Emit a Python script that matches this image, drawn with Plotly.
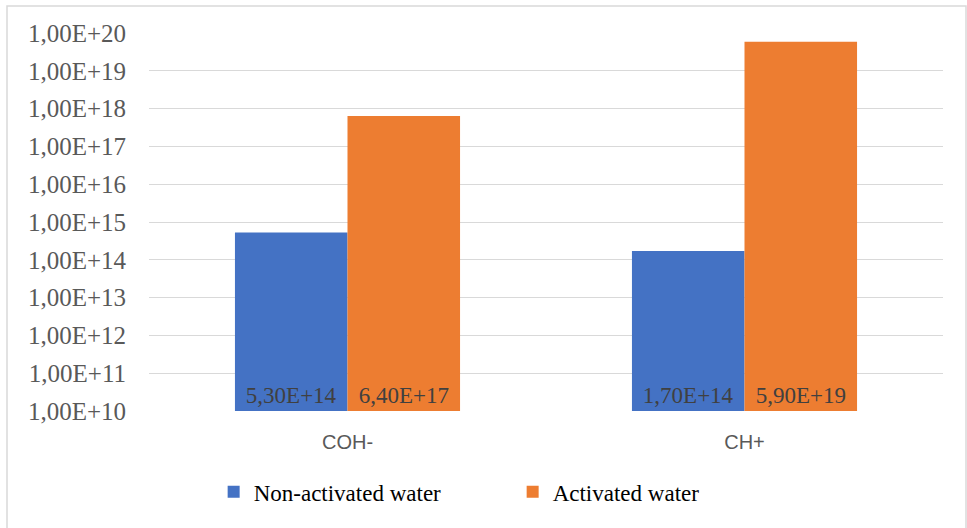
import plotly.graph_objects as go

categories = ["COH-", "CH+"]
non_activated = [5.30e14, 1.70e14]
activated = [6.40e17, 5.90e19]
non_activated_labels = ["5,30E+14", "1,70E+14"]
activated_labels = ["6,40E+17", "5,90E+19"]
tick_vals = [float(10.0 ** k) for k in range(10, 21)]
tick_text = ["1,00E+%d" % k for k in range(10, 21)]

L, R, T, B = 149, 24, 33, 117
W, H = 967, 528
pw, ph = W - L - R, H - T - B

fig = go.Figure()
fig.add_trace(go.Bar(
    x=categories, y=non_activated, name="Non-activated water",
    marker=dict(color="#4472C4", line=dict(width=0)),
    text=non_activated_labels, textposition="inside", insidetextanchor="start",
    textfont=dict(family="Liberation Serif", size=23, color="#404040"),
    textangle=0,
))
fig.add_trace(go.Bar(
    x=categories, y=activated, name="Activated water",
    marker=dict(color="#ED7D31", line=dict(width=0)),
    text=activated_labels, textposition="inside", insidetextanchor="start",
    textfont=dict(family="Liberation Serif", size=23, color="#404040"),
    textangle=0,
))

fig.update_layout(
    width=W, height=H,
    margin=dict(l=L, r=R, t=T, b=B, autoexpand=False),
    paper_bgcolor="white", plot_bgcolor="white",
    barmode="group", bargap=0.433, bargroupgap=0,
    showlegend=True,
    legend=dict(
        orientation="h", x=0.458, xanchor="center", y=-0.214, yanchor="middle",
        font=dict(family="Liberation Serif", size=23, color="#000000"),
        entrywidth=254, traceorder="normal",
    ),
    xaxis=dict(
        showgrid=False, showline=False, ticks="",
        tickfont=dict(family="Liberation Sans", size=20, color="#595959"),
        ticklabelstandoff=17,
    ),
    yaxis=dict(
        type="log", range=[10, 20],
        tickvals=tick_vals, ticktext=tick_text,
        showgrid=True, gridcolor="#d9d9d9", gridwidth=1,
        zeroline=False, showline=False, ticks="",
        tickfont=dict(family="Liberation Serif", size=25, color="#595959"),
        ticklabelstandoff=22,
    ),
    shapes=[dict(
        type="rect", xref="paper", yref="paper",
        x0=(7 - L) / pw, x1=(966 - L) / pw,
        y0=(T + ph - 540) / ph, y1=1 + (T - 6) / ph,
        line=dict(color="#d9d9d9", width=1.5), fillcolor="rgba(0,0,0,0)",
        layer="below",
    )],
)

fig.write_html("out.html", config={"displayModeBar": False},
               post_script="document.body.style.margin='0';")
